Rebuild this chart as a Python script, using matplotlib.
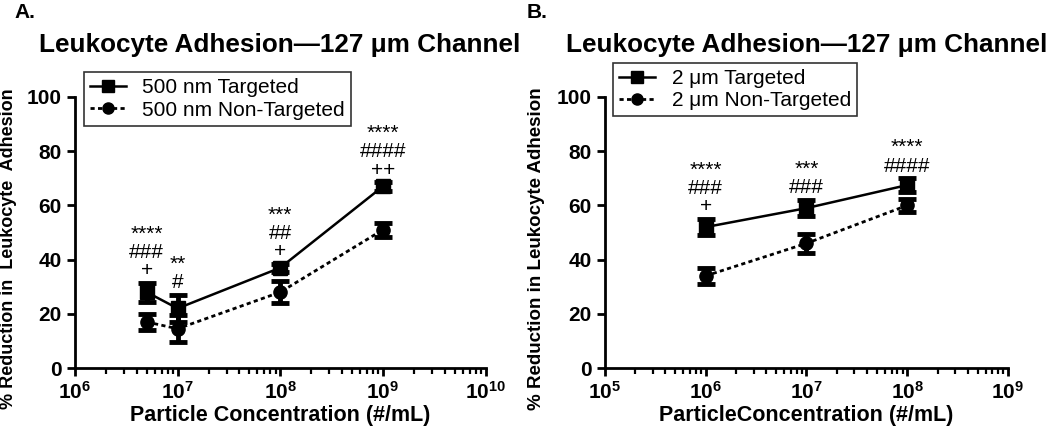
import matplotlib.pyplot as plt
import numpy as np
from matplotlib.ticker import FuncFormatter, LogLocator
from matplotlib.lines import Line2D

plt.rcParams['font.family'] = ['Liberation Sans', 'DejaVu Sans']
plt.rcParams['mathtext.fontset'] = 'custom'
plt.rcParams['mathtext.rm'] = 'Liberation Sans'
plt.rcParams['mathtext.bf'] = 'Liberation Sans:bold'

# panel A: 500 nm particles
conc_a = [5e6, 1e7, 1e8, 1e9]
targ_a = [28, 22, 37, 67]
targ_a_err = [3.5, 5, 1.5, 1.5]
non_a = [17, 14.5, 28, 51]
non_a_err = [3, 5, 4, 2.5]
marks_a = [['****', '###', '+'], ['**', '#'], ['***', '##', '+'], ['****', '####', '++']]

# panel B: 2 um particles
conc_b = [1e6, 1e7, 1e8]
targ_b = [52, 59, 67.5]
targ_b_err = [3, 3, 2.5]
non_b = [34, 46, 60]
non_b_err = [3, 3.5, 2.5]
marks_b = [['****', '###', '+'], ['***', '###'], ['****', '####']]

DOT = (0, (1.5, 1.2))

fig = plt.figure(figsize=(10.5, 4.33), dpi=100)
axA = fig.add_axes([0.0714, 0.150, 0.391, 0.626])
axB = fig.add_axes([0.576, 0.150, 0.384, 0.626])


def style(ax, xlim):
    ax.set_xscale('log')
    ax.set_xlim(*xlim)
    ax.set_ylim(0, 100)
    ax.set_yticks([0, 20, 40, 60, 80, 100])
    ax.xaxis.set_major_locator(LogLocator(base=10, numticks=10))
    ax.xaxis.set_minor_locator(LogLocator(base=10, subs=np.arange(2, 10), numticks=20))
    ax.xaxis.set_major_formatter(FuncFormatter(lambda v, p: r'$\mathbf{10^{%d}}$' % round(np.log10(v))))
    for s in ['top', 'right']:
        ax.spines[s].set_visible(False)
    for s in ['left', 'bottom']:
        ax.spines[s].set_linewidth(2)
    ax.tick_params(which='major', length=6, width=2, labelsize=15, direction='out')
    ax.tick_params(which='minor', length=4, width=1.6, direction='out')
    for t in ax.get_yticklabels():
        t.set_fontweight('bold')


def draw(ax, x, t, te, n, ne, marks, lab_t, lab_n, anchor):
    ax.errorbar(x, t, yerr=te, color='black', marker='s', markersize=9.5, lw=1.8,
                capsize=6.5, capthick=3.5, elinewidth=3.5, zorder=3)
    ax.errorbar(x, n, yerr=ne, color='black', marker='o', markersize=9.5, lw=2,
                ls=DOT, capsize=6.5, capthick=3.5, elinewidth=3.5, zorder=3)
    for xi, yi, ei, m in zip(x, t, te, marks):
        ax.annotate('\n'.join(m), (xi, yi + ei), xytext=(0, 2), textcoords='offset points',
                    ha='center', va='bottom', fontsize=15, linespacing=0.95)
    handles = [Line2D([], [], color='black', marker='s', markersize=8, lw=1.8),
               Line2D([], [], color='black', marker='o', markersize=8, lw=2, ls=DOT)]
    leg = ax.legend(handles, [lab_t, lab_n], loc='upper left', bbox_to_anchor=anchor,
                    fontsize=15, frameon=True, fancybox=False, edgecolor='black',
                    handlelength=1.7, borderpad=0.3, labelspacing=0.15, handletextpad=0.8)
    leg.get_frame().set_linewidth(1.2)


style(axA, (1e6, 1e10))
draw(axA, conc_a, targ_a, targ_a_err, non_a, non_a_err, marks_a,
     '500 nm Targeted', '500 nm Non-Targeted', (-0.003, 1.13))
axA.set_xlabel('Particle Concentration (#/mL)', fontsize=15.5, fontweight='bold', labelpad=1)
axA.set_ylabel('% Reduction in  Leukocyte  Adhesion', fontsize=13, fontweight='bold')
axA.yaxis.set_label_coords(-0.14, 0.44)

style(axB, (1e5, 1e9))
draw(axB, conc_b, targ_b, targ_b_err, non_b, non_b_err, marks_b,
     '2 \u03bcm Targeted', '2 \u03bcm Non-Targeted', (-0.005, 1.165))
axB.set_xlabel('ParticleConcentration (#/mL)', fontsize=15.5, fontweight='bold', labelpad=1)
axB.set_ylabel('% Reduction in Leukocyte Adhesion', fontsize=13.5, fontweight='bold')
axB.yaxis.set_label_coords(-0.148, 0.44)

fig.text(0.266, 0.895, 'Leukocyte Adhesion\u2014127 \u03bcm Channel', fontsize=18.8,
         fontweight='bold', ha='center', va='center')
fig.text(0.768, 0.895, 'Leukocyte Adhesion\u2014127 \u03bcm Channel', fontsize=18.8,
         fontweight='bold', ha='center', va='center')
fig.text(0.014, 0.972, 'A.', fontsize=15, fontweight='bold', ha='left', va='center')
fig.text(0.502, 0.972, 'B.', fontsize=15, fontweight='bold', ha='left', va='center')

fig.savefig('out.png', dpi=100)
